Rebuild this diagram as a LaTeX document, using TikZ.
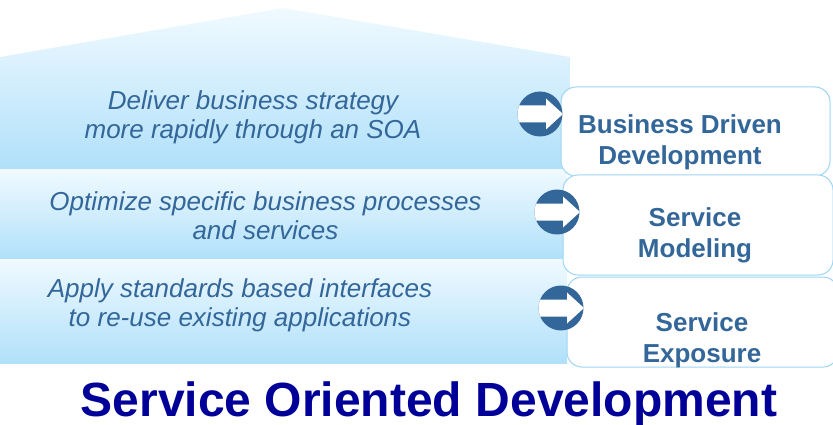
\documentclass[tikz,border=0pt]{standalone}
\usepackage{fontspec}
\setmainfont{Liberation Sans}
\usetikzlibrary{calc}
\definecolor{soablue}{HTML}{336699}
\definecolor{layertop}{HTML}{F0FAFF}
\definecolor{layerbot}{HTML}{B0E0FA}
\definecolor{boxline}{HTML}{9DD6F5}
\definecolor{titleblue}{HTML}{000099}
\begin{document}
\begin{tikzpicture}[x=1pt, y=-1pt,
  layer/.style = {top color=layertop, bottom color=layerbot},
  goal/.style = {text=soablue, align=center, font=\fontsize{26}{29}\selectfont\itshape},
  stage/.style = {draw=boxline, line width=1pt, fill=white, rounded corners=15pt},
  stagetext/.style = {text=soablue, align=center, font=\fontsize{26}{31}\selectfont\bfseries},
  disc/.style = {circle, fill=soablue, minimum size=45pt, inner sep=0pt}]
	\useasboundingbox (0,0) rectangle (833,425);
	% layers
	\shade[layer] (0,57) -- (283,8) -- (570,57) -- (570,170) -- (0,170) -- cycle;
	\shade[layer] (0,170) rectangle (567,259);
	\shade[layer] (0,259) rectangle (567,363);
	\node[goal] (deliver) at (253,117) {Deliver business strategy\\more rapidly through an SOA};
	\node[goal] (optimize) at (265.5,216) {Optimize specific business processes\\and services};
	\node[goal] (apply) at (240,305) {Apply standards based interfaces\\to re-use existing applications};
	% boxes
	\node[stage, minimum width=269pt, minimum height=89pt] (bdd) at (695.5,131.5) {};
	\node[stage, minimum width=270pt, minimum height=100pt] (sm) at (698,225) {};
	\node[stage, minimum width=271pt, minimum height=90pt] (se) at (702.5,322) {};
	\node[stagetext] (bddtext) at (680,142.75) {Business Driven\\Development};
	\node[stagetext] (smtext) at (695,235) {Service\\Modeling};
	\node[stagetext] (setext) at (702,340) {Service\\Exposure};
	% arrow discs
	\node[disc] (d1) at (540,114) {};
	\node[disc] (d2) at (557,212) {};
	\node[disc] (d3) at (561,308) {};
	\foreach \d in {d1,d2,d3} {
		\begin{scope}
			\clip (\d) circle (22.5);
			\fill[white] ($(\d)+(-30,-8.5)$) -- ($(\d)+(6,-8.5)$) -- ($(\d)+(6,-15.5)$) -- ($(\d)+(23,0)$)
				-- ($(\d)+(6,15.5)$) -- ($(\d)+(6,8.5)$) -- ($(\d)+(-30,8.5)$) -- cycle;
		\end{scope}
	}
	\node[font=\fontsize{48}{56}\selectfont\bfseries, text=titleblue, anchor=base] (title) at (429,416.5) {Service Oriented Development};
\end{tikzpicture}
\end{document}
